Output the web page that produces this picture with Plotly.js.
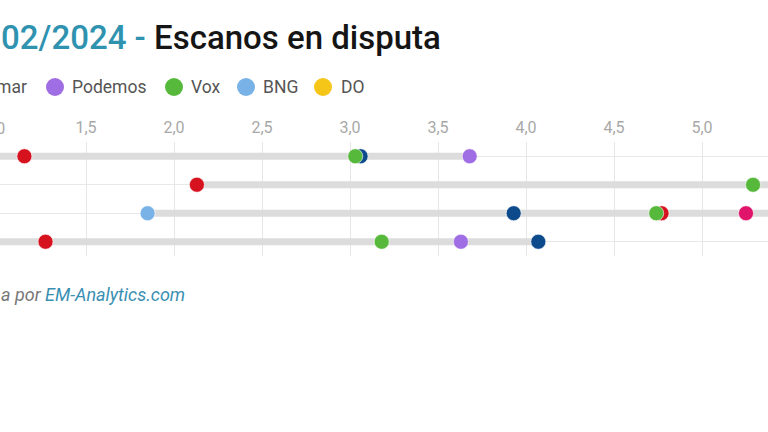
<!DOCTYPE html>
<html>
<head>
<meta charset="utf-8">
<script src="https://cdn.plot.ly/plotly-3.0.1.min.js"></script>
<style>
html,body{margin:0;padding:0;background:#fff;overflow:hidden;}
#chart{width:768px;height:432px;}
</style>
</head>
<body>
<div id="chart"></div>
<script>
// Rows (provinces) – labels are outside the visible crop
const rows = ["A Coruña", "Lugo", "Ourense", "Pontevedra"];

// Party values per row (null = not shown); off-screen values are estimates
const pp      = [3.06, 5.55, 3.93, 4.07];
const psdeg   = [1.15, 2.13, 4.77, 1.27];
const sumar   = [null, null, 5.25, null];
const podemos = [3.68, null, 5.50, 3.63];
const vox     = [3.03, 5.29, 4.74, 3.18];
const bng     = [0.85, null, 1.85, 0.90];

const parties = [
  {name: "PSdeG",   vals: psdeg,   color: "#d7121f"},
  {name: "BNG",     vals: bng,     color: "#78b2e6"},
  {name: "PP",      vals: pp,      color: "#0d4a8c"},
  {name: "Sumar",   vals: sumar,   color: "#e0146a"},
  {name: "Podemos", vals: podemos, color: "#a06ee4"},
  {name: "Vox",     vals: vox,     color: "#57b93c"}
];

// Legend entries visible in the crop
const legendNames  = ["Sumar", "Podemos", "Vox", "BNG", "DO"];
const legendColors = ["#e0146a", "#a06ee4", "#57b93c", "#78b2e6", "#f5c518"];

const xTicks = [1.0, 1.5, 2.0, 2.5, 3.0, 3.5, 4.0, 4.5, 5.0, 5.5];

// dumbbell bars
const bx = [], by = [];
rows.forEach((r, i) => {
  const v = parties.map(p => p.vals[i]).filter(x => x !== null);
  bx.push(Math.min(...v), Math.max(...v), null);
  by.push(r, r, null);
});

const traces = [{
  type: "scatter", mode: "lines", x: bx, y: by,
  line: {color: "#dcdcdc", width: 7}, hoverinfo: "skip", showlegend: false
}];
parties.forEach(p => {
  traces.push({
    type: "scatter", mode: "markers", name: p.name,
    x: p.vals, y: rows,
    marker: {color: p.color, size: 15, line: {color: "rgba(255,255,255,0.6)", width: 1}},
    showlegend: false
  });
});

const H = 432, plotTop = 142, plotBottom = 256, ph = plotBottom - plotTop;
const py = px => (plotBottom - px) / ph;
const pxX = px => px / 768;

const annotations = [
  {xref: "paper", yref: "paper", x: pxX(-1), y: py(37), xanchor: "left", yanchor: "middle",
   showarrow: false, align: "left",
   text: "<span style='color:#2f93b0'>02/2024 - </span><span style='color:#151515'>Escanos en disputa</span>",
   font: {family: "Roboto", size: 33, color: "#151515", weight: 500}},
  {xref: "paper", yref: "paper", x: pxX(-1), y: py(294), xanchor: "left", yanchor: "middle",
   showarrow: false,
   text: "<i><span style='color:#777'>a por </span><span style='color:#3a8fb3'>EM-Analytics.com</span></i>",
   font: {family: "Roboto", size: 18, color: "#777"}},
  // first tick label, cut at the left edge as in the reference
  {xref: "paper", yref: "paper", x: pxX(-6), y: py(128), xanchor: "center", yanchor: "middle",
   showarrow: false, text: (1.0).toFixed(1).replace(".", ","),
   font: {family: "Roboto", size: 16, color: "#a8a8a8"}}
];
const shapes = [];
// legend: "...mar" text cut on the left then items
const legendTextX = [-26, 70, 189, 261, 339];
const legendDotX  = [-38, 55, 174, 246, 323];
legendNames.forEach((n, i) => {
  annotations.push({xref: "paper", yref: "paper", x: pxX(legendTextX[i]), y: py(87),
    xanchor: "left", yanchor: "middle", showarrow: false, text: n,
    font: {family: "Roboto", size: 17.5, color: "#555"}});
  shapes.push({type: "circle", xref: "paper", yref: "paper",
    xsizemode: "pixel", ysizemode: "pixel",
    xanchor: pxX(legendDotX[i]), yanchor: py(87),
    x0: -9, x1: 9, y0: -9, y1: 9,
    fillcolor: legendColors[i], line: {width: 0}});
});

const layout = {
  width: 768, height: 432,
  margin: {l: 0, r: 0, t: plotTop, b: H - plotBottom, pad: 0},
  paper_bgcolor: "#fff", plot_bgcolor: "#fff",
  separators: ",.",
  showlegend: false,
  xaxis: {
    side: "top", range: [1.0 + 2/176, 1.0 + 770/176],
    tickvals: xTicks, tickformat: ".1f",
    tickfont: {family: "Roboto", size: 16, color: "#a8a8a8"},
    ticklabelstandoff: 5,
    showgrid: true, gridcolor: "#e6e6e6", gridwidth: 1,
    zeroline: false, showline: false, ticks: "", fixedrange: true
  },
  yaxis: {
    type: "category", categoryarray: rows, range: [3.5, -0.5],
    showticklabels: false, showgrid: true, gridcolor: "#e8e8e8", gridwidth: 1,
    zeroline: false, showline: false, ticks: ""
  },
  annotations: annotations,
  shapes: shapes
};

Plotly.newPlot("chart", traces, layout, {displayModeBar: false, staticPlot: true});
</script>
</body>
</html>
